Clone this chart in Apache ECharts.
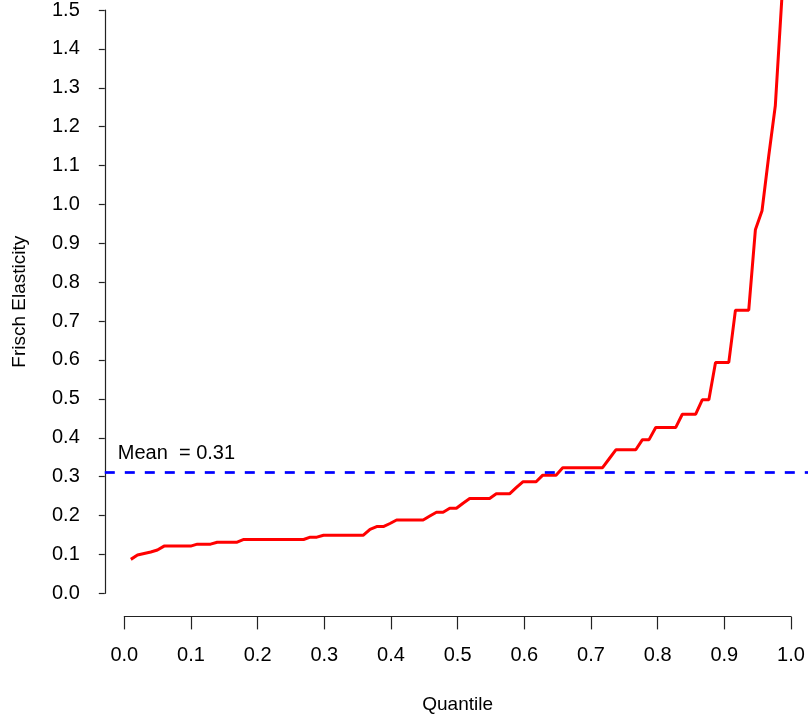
<!DOCTYPE html>
<html>
<head>
<meta charset="utf-8">
<script src="https://cdn.jsdelivr.net/npm/echarts@6/dist/echarts.min.js"></script>
<style>
html,body{margin:0;padding:0;background:#fff;}
#chart{width:808px;height:720px;}
</style>
</head>
<body>
<div id="chart"></div>
<script>
// ---- data ----
const quantiles = [];
for (let i = 1; i <= 99; i++) quantiles.push(i / 100);
const elasticity = [
  0.087, 0.098, 0.102, 0.106, 0.111, 0.121, 0.121, 0.121, 0.121, 0.121,
  0.126, 0.126, 0.126, 0.131, 0.131, 0.131, 0.131, 0.138, 0.138, 0.138,
  0.138, 0.138, 0.138, 0.138, 0.138, 0.138, 0.138, 0.144, 0.144, 0.149,
  0.149, 0.149, 0.149, 0.149, 0.149, 0.149, 0.164, 0.171, 0.171, 0.179,
  0.188, 0.188, 0.188, 0.188, 0.188, 0.198, 0.208, 0.208, 0.218, 0.218,
  0.231, 0.243, 0.243, 0.243, 0.243, 0.255, 0.255, 0.255, 0.271, 0.286,
  0.286, 0.286, 0.303, 0.303, 0.303, 0.322, 0.322, 0.322, 0.322, 0.322,
  0.322, 0.322, 0.345, 0.368, 0.368, 0.368, 0.368, 0.394, 0.394, 0.425,
  0.425, 0.425, 0.425, 0.459, 0.459, 0.459, 0.496, 0.496, 0.592, 0.592,
  0.592, 0.726, 0.726, 0.726, 0.932, 0.981, 1.12, 1.25, 1.53
];
const meanValue = 0.3144;
const meanLabel = 'Mean  = 0.31';
const xTickLabels = ['0.0','0.1','0.2','0.3','0.4','0.5','0.6','0.7','0.8','0.9','1.0'];
const yTickLabels = ['0.0','0.1','0.2','0.3','0.4','0.5','0.6','0.7','0.8','0.9','1.0','1.1','1.2','1.3','1.4','1.5'];
const xTitle = 'Quantile';
const yTitle = 'Frisch Elasticity';

// ---- chart ----
const FONT = 'Liberation Sans, Arial, sans-serif';
const chart = echarts.init(document.getElementById('chart'), null, {renderer: 'canvas'});
const seriesData = quantiles.map((q, i) => [q, elasticity[i]]);
const axisColor = '#222';

chart.setOption({
  backgroundColor: '#ffffff',
  animation: false,
  textStyle: {fontFamily: FONT},
  grid: [
    // 0: plotting region (with 4% padding)
    {left: 104.8, width: 705.6, top: 8.3, height: 608.4},
    // 1: y axis region (tick span), axis drawn offset to the left
    {left: 124.3, width: 666.7, top: 8.3, height: 585},
    // 2: x axis region, bottom at the plotting region bottom
    {left: 124.3, width: 666.7, top: 8.3, height: 608.4}
  ],
  xAxis: [
    {gridIndex: 0, type: 'value', min: -0.0292, max: 1.0292, show: false},
    {gridIndex: 1, type: 'value', min: 0, max: 1, show: false},
    {
      gridIndex: 2, type: 'value', min: 0, max: 1, interval: 0.1,
      position: 'bottom',
      name: xTitle, nameLocation: 'middle', nameGap: 79,
      nameTextStyle: {color: '#000', fontSize: 19, fontFamily: FONT},
      axisLine: {show: true, onZero: false, lineStyle: {color: axisColor, width: 1.2}},
      axisTick: {show: true, length: 12.7, lineStyle: {color: axisColor, width: 1.2}},
      axisLabel: {color: '#000', fontSize: 20, fontFamily: FONT, margin: 29,
        formatter: v => xTickLabels[Math.round(v * 10)]},
      splitLine: {show: false}
    }
  ],
  yAxis: [
    {gridIndex: 0, type: 'value', min: -0.06, max: 1.5, show: false},
    {
      gridIndex: 1, type: 'value', min: 0, max: 1.5, interval: 0.1,
      offset: 19.5,
      name: yTitle, nameLocation: 'middle', nameGap: 76, nameRotate: 90,
      nameTextStyle: {color: '#000', fontSize: 19, fontFamily: FONT},
      axisLine: {show: true, onZero: false, lineStyle: {color: axisColor, width: 1.2}},
      axisTick: {show: true, length: 6, lineStyle: {color: axisColor, width: 1.2}},
      axisLabel: {color: '#000', fontSize: 20, fontFamily: FONT, margin: 25,
        formatter: v => yTickLabels[Math.round(v * 10)]},
      splitLine: {show: false}
    },
    {gridIndex: 2, type: 'value', min: 0, max: 1, show: false}
  ],
  series: [
    {
      type: 'line',
      xAxisIndex: 0, yAxisIndex: 0,
      data: seriesData,
      clip: false,
      showSymbol: false,
      symbol: 'none',
      lineStyle: {color: '#ff0000', width: 3},
      z: 3,
      markLine: {
        silent: true,
        symbol: ['none', 'none'],
        lineStyle: {color: '#0000ff', width: 2.7, type: [10, 10]},
        label: {
          show: true,
          position: 'insideStartTop',
          formatter: meanLabel,
          color: '#000',
          fontSize: 20,
          fontFamily: FONT,
          distance: [13, 9]
        },
        data: [{yAxis: meanValue}]
      }
    }
  ]
});
</script>
</body>
</html>
